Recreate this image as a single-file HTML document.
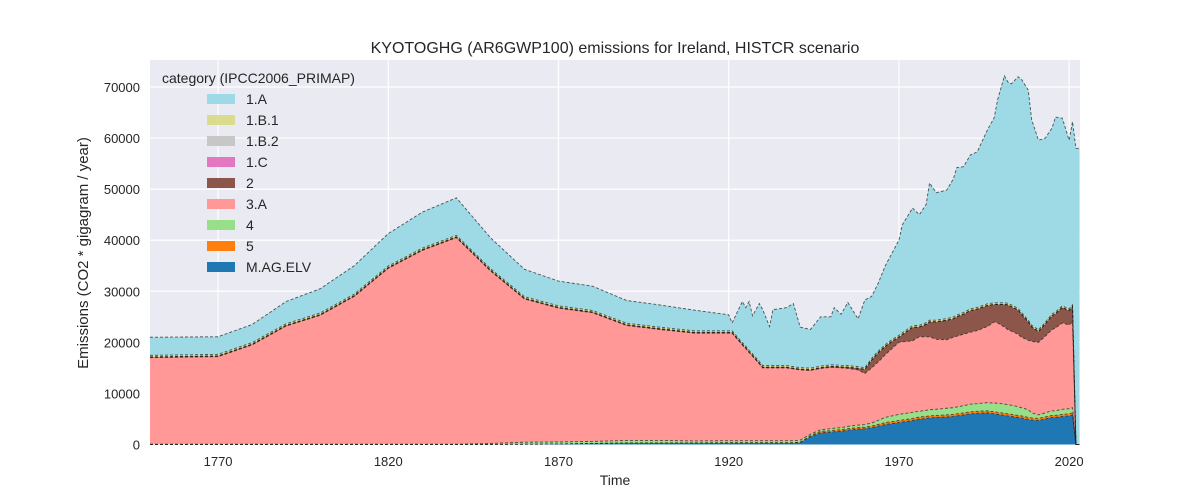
<!DOCTYPE html>
<html><head><meta charset="utf-8">
<style>
html,body{margin:0;padding:0;background:#fff;}
svg{display:block;font-family:"Liberation Sans","DejaVu Sans",sans-serif;}
</style></head>
<body>
<svg id="chart" width="1200" height="500" viewBox="0 0 1200 500">
  <rect x="150" y="60" width="930" height="385" fill="#eaeaf2"/>
  <g id="grid"></g>
  <g id="areas"></g>
  <g id="lines"></g>
  <g id="xticks"></g>
  <g id="yticks"></g>
  <text x="615" y="53" text-anchor="middle" font-size="16" fill="#262626">KYOTOGHG (AR6GWP100) emissions for Ireland, HISTCR scenario</text>
  <text x="615" y="485" text-anchor="middle" font-size="14" fill="#262626">Time</text>
  <text transform="translate(88,253) rotate(-90)" text-anchor="middle" font-size="15" fill="#262626">Emissions (CO2 * gigagram / year)</text>
  <g id="legend">
    <text x="162" y="83" font-size="14" fill="#262626">category (IPCC2006_PRIMAP)</text>
  </g>
</svg>
<script>
const years = [1750,1770,1780,1790,1800,1810,1820,1830,1840,1850,1860,1870,1880,1890,1900,1910,
1920,1921,1924,1925,1926,1927,1929,1930,1932,1933,1937,1939,1941,1944,1947,
1950,1951,1953,1955,1958,1960,1962,1964,1966,1968,
1970,1971,1974,1976,1978,1979,1981,1984,1986,1987,1989,
1991,1993,1996,1998,1999,2001,2002,2003,2005,2006,2008,2009,
2011,2013,2015,2016,2018,2020,2021,2022,2023];
const sMAG = [0,0,0,0,0,0,0,0,0,0,50,100,200,300,300,300,
300,300,300,300,300,300,300,300,300,300,300,300,400,1500,2300,
2400,2500,2600,2800,3000,3100,3300,3600,3900,4100,
4300,4400,4700,5000,5100,5200,5300,5400,5500,5600,5800,
6000,6100,6200,6000,5900,5700,5600,5500,5300,5200,4900,4800,
4700,5000,5300,5300,5500,5600,5800,0,0];
const s5 = [0,0,0,0,0,0,0,0,0,0,0,0,0,0,0,0,
50,50,50,50,50,50,50,50,50,50,50,50,50,200,300,
300,300,300,300,300,300,300,350,400,400,
400,400,400,400,400,400,400,400,400,400,400,
400,400,400,400,400,400,400,400,400,400,400,400,
400,400,400,400,400,400,400,0,0];
const s4 = [50,50,50,50,50,50,50,50,50,200,400,400,400,500,500,400,
400,400,400,400,400,400,400,400,400,400,400,400,400,300,300,
400,400,400,450,500,500,600,800,1000,1100,
1200,1200,1200,1100,1200,1200,1200,1300,1300,1350,1400,
1500,1500,1600,1700,1800,1800,1800,1800,1700,1600,1500,1000,
700,800,900,900,1000,1000,1000,0,0];
const s3A = [16950,17150,19450,23150,25250,28950,34450,37950,40450,33800,28050,26200,25200,22500,21700,21100,
21050,21050,18750,18050,17250,16550,15050,14250,14250,14250,14250,14050,13750,12500,12000,
12000,11900,11700,11350,10800,10000,10800,11450,12300,13200,
14100,14100,14000,14600,14400,14300,13700,13400,13800,13850,14000,
14100,14300,14900,15900,15700,15100,14700,14500,14200,13800,13600,14000,
14200,15000,15900,16200,16900,16400,16800,0,0];
const s2 = [100,100,100,100,100,100,100,100,100,100,100,100,100,100,100,100,
100,100,100,100,100,100,100,100,100,100,100,100,100,100,100,
150,150,150,200,300,800,1500,1800,1600,1400,
1000,1400,2600,1900,2400,2900,3400,3800,3600,3800,3900,
4200,4200,4100,3400,3600,4400,4800,4800,4700,4500,3600,2800,
2100,2400,2700,2800,3000,2800,3000,0,0];
const s1C = [20,20,20,20,20,20,20,20,20,20,20,20,20,20,20,20,
20,20,20,20,20,20,20,20,20,20,20,20,20,20,20,
20,20,20,20,20,20,20,20,20,20,
20,20,20,20,20,20,20,20,20,20,20,
20,20,20,20,20,20,20,20,20,20,20,20,
20,20,20,20,20,20,20,0,0];
const s1B2 = [30,30,30,30,30,30,30,30,30,30,30,30,30,30,30,30,
30,30,30,30,30,30,30,30,30,30,30,30,30,30,30,
30,30,30,30,30,30,30,30,30,30,
30,30,30,30,30,30,30,30,30,30,30,
30,30,30,30,30,30,30,30,30,30,30,30,
30,30,30,30,30,30,30,0,0];
const s1B1 = [300,300,300,300,300,300,300,300,300,300,300,300,300,300,300,300,
300,300,300,300,300,300,300,300,300,300,300,300,300,300,300,
300,300,300,300,300,300,300,300,300,300,
300,300,300,300,300,300,300,300,300,300,300,
300,300,300,300,300,300,300,300,300,300,300,300,
300,300,300,300,300,300,300,0,0];
const s1A = [3550,3450,3550,4350,4750,5550,6350,7050,7350,6050,5350,4850,4750,4450,4350,4050,
3150,1550,8050,7550,9550,7450,11350,10950,7650,10950,11350,12350,7950,7550,9650,
9400,11200,10000,12350,9350,13250,12150,13350,15450,16950,
18650,21150,23050,21650,23150,26850,24950,25150,27050,28850,28550,
30150,30450,34050,36250,39750,44450,43350,43250,45350,45650,45050,40250,
37150,36050,36450,38150,36750,33050,35850,58000,58000];
const xTicks = [1770,1820,1870,1920,1970,2020];
const yTicks = [0,10000,20000,30000,40000,50000,60000,70000];
const seriesNames = ["M.AG.ELV","5","4","3.A","2","1.C","1.B.2","1.B.1","1.A"];
const seriesColors = ["#1f77b4","#ff7f0e","#98df8a","#ff9896","#8c564b","#e377c2","#c7c7c7","#dbdb8d","#9edae5"];
const seriesData = [sMAG,s5,s4,s3A,s2,s1C,s1B2,s1B1,s1A];

const X0=150,X1=1080,Y0=444.5,Y1=60;
const xMin=1750,xMax=2023.2;
function xs(v){return X0+(v-xMin)/(xMax-xMin)*(X1-X0);}
function ys(v){return Y0-v*(Y0-87)/70000;}
const NS="http://www.w3.org/2000/svg";
function mk(tag,parent){const e=document.createElementNS(NS,tag);parent.appendChild(e);return e;}

const grid=document.getElementById('grid');
xTicks.forEach(t=>{const l=mk('line',grid);


l.setAttribute('x1',xs(t));l.setAttribute('x2',xs(t));l.setAttribute('y1',Y1);l.setAttribute('y2',Y0);
l.setAttribute('stroke','#fff');l.setAttribute('stroke-width','1.2');});
yTicks.forEach(t=>{const l=mk('line',grid);


l.setAttribute('x1',X0);l.setAttribute('x2',X1);l.setAttribute('y1',ys(t));l.setAttribute('y2',ys(t));
l.setAttribute('stroke','#fff');l.setAttribute('stroke-width','1.2');});

const xt=document.getElementById('xticks');
xTicks.forEach(t=>{const e=mk('text',xt);


e.setAttribute('x',xs(t));e.setAttribute('y',466);e.setAttribute('text-anchor','middle');
e.setAttribute('font-size','13');e.setAttribute('fill','#262626');e.textContent=t;});
const yt=document.getElementById('yticks');
yTicks.forEach(t=>{const e=mk('text',yt);


e.setAttribute('x',140);e.setAttribute('y',ys(t)+5);e.setAttribute('text-anchor','end');
e.setAttribute('font-size','13');e.setAttribute('fill','#262626');e.textContent=t;});

const areas=document.getElementById('areas'),lines=document.getElementById('lines');
let base=years.map(()=>0);
seriesData.forEach((s,k)=>{
  const top=base.map((b,i)=>b+s[i]);
  let d='M'+years.map((y,i)=>xs(y).toFixed(2)+','+ys(top[i]).toFixed(2)).join(' L');
  for(let i=years.length-1;i>=0;i--) d+=' L'+xs(years[i]).toFixed(2)+','+ys(base[i]).toFixed(2);
  d+=' Z';
  const p=mk('path',areas);
  
  
  p.setAttribute('d',d);p.setAttribute('fill',seriesColors[k]);
  const ln=mk('path',lines);
  
  
  ln.setAttribute('d','M'+years.map((y,i)=>xs(y).toFixed(2)+','+ys(top[i]).toFixed(2)).join(' L'));
  ln.setAttribute('fill','none');ln.setAttribute('stroke','#222');ln.setAttribute('stroke-width','0.9');
  ln.setAttribute('stroke-dasharray','3,2');ln.setAttribute('stroke-opacity','0.75');
  base=top;
});

const lg=document.getElementById('legend');
const order=[8,7,6,5,4,3,2,1,0];
order.forEach((k,j)=>{
  const cy=99+j*21;
  const r=mk('rect',lg);
  
  
  r.setAttribute('x',207);r.setAttribute('y',cy-5);r.setAttribute('width',28);r.setAttribute('height',10);
  r.setAttribute('fill',seriesColors[k]);
  const t=mk('text',lg);
  
  
  t.setAttribute('x',246);t.setAttribute('y',cy+5);t.setAttribute('font-size','14');t.setAttribute('fill','#262626');
  t.textContent=seriesNames[k];
});
</script>
</body></html>
